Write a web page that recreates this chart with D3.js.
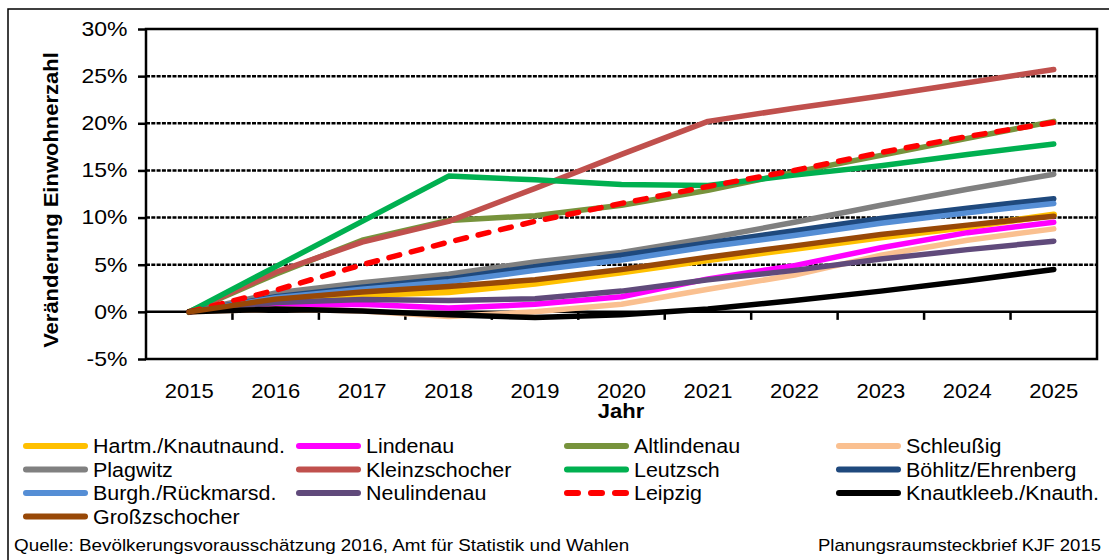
<!DOCTYPE html>
<html>
<head>
<meta charset="utf-8">
<script src="https://cdn.jsdelivr.net/npm/d3@7"></script>
<style>
  body { margin: 0; background: #fff; }
  svg { font-family: "Liberation Sans", Arial, sans-serif; }
</style>
</head>
<body>
<div class="visHolder"></div>
<script>
// Veränderung der Einwohnerzahl 2015-2025 (in %), gegenüber 2015
var years = ['2015', '2016', '2017', '2018', '2019', '2020', '2021', '2022', '2023', '2024', '2025'];
var yTicks = [-5, 0, 5, 10, 15, 20, 25, 30];

var hartm          = [0, 1.1, 1.8, 2.1, 3.0, 4.2, 5.5, 6.7, 7.9, 9.0, 10.3];
var lindenau       = [0, 0.6, 0.8, 0.4, 0.8, 1.6, 3.5, 4.9, 6.8, 8.4, 9.5];
var altlindenau    = [0, 4.0, 7.6, 9.7, 10.2, 11.3, 12.9, 14.8, 16.6, 18.4, 20.2];
var schleussig     = [0, 0.3, 0.1, -0.5, 0.0, 0.8, 2.4, 3.9, 6.0, 7.6, 8.8];
var plagwitz       = [0, 2.0, 3.1, 4.0, 5.3, 6.3, 7.8, 9.5, 11.3, 13.0, 14.6];
var kleinzschocher = [0, 4.2, 7.4, 9.6, 13.1, 16.7, 20.2, 21.6, 22.9, 24.3, 25.7];
var leutzsch       = [0, 4.8, 9.6, 14.4, 14.0, 13.5, 13.4, 14.5, 15.5, 16.7, 17.8];
var boehlitz       = [0, 1.6, 2.6, 3.5, 4.8, 6.0, 7.3, 8.6, 9.9, 11.0, 12.0];
var burgh          = [0, 1.5, 2.4, 3.2, 4.4, 5.5, 6.9, 8.1, 9.4, 10.5, 11.5];
var neulindenau    = [0, 1.0, 1.3, 1.2, 1.4, 2.2, 3.4, 4.4, 5.6, 6.6, 7.5];
var leipzig        = [0, 2.3, 5.0, 7.4, 9.6, 11.5, 13.3, 15.0, 16.9, 18.6, 20.1];
var knautkleeb     = [0, 0.3, 0.1, -0.3, -0.6, -0.3, 0.3, 1.2, 2.2, 3.3, 4.5];
var grosszschocher = [0, 1.35, 2.1, 2.7, 3.4, 4.5, 5.8, 7.0, 8.2, 9.2, 10.15];

// series in Excel order (legend is filled row by row, later ones drawn on top)
var series = [
  { name: 'Hartm./Knautnaund.', values: hartm, color: '#FFC000', w: 6.5 },
  { name: 'Lindenau', values: lindenau, color: '#FF00FF' },
  { name: 'Altlindenau', values: altlindenau, color: '#77933C' },
  { name: 'Schleußig', values: schleussig, color: '#FAC090' },
  { name: 'Plagwitz', values: plagwitz, color: '#808080' },
  { name: 'Kleinzschocher', values: kleinzschocher, color: '#C0504D' },
  { name: 'Leutzsch', values: leutzsch, color: '#00B050' },
  { name: 'Böhlitz/Ehrenberg', values: boehlitz, color: '#1F497D' },
  { name: 'Burgh./Rückmarsd.', values: burgh, color: '#558ED5' },
  { name: 'Neulindenau', values: neulindenau, color: '#604A7B' },
  { name: 'Leipzig', values: leipzig, color: '#FF0000', dash: true },
  { name: 'Knautkleeb./Knauth.', values: knautkleeb, color: '#000000' },
  { name: 'Großzschocher', values: grosszschocher, color: '#984807' }
];

var width = 1109,
    height = 560,
    plotLeft = 146,
    plotRight = 1097,
    plotTop = 29,
    plotBottom = 359,
    stretch = 1.1; // Excel text comes out a bit wide

var svg = d3.select('.visHolder')
  .append('svg')
  .attr('width', width)
  .attr('height', height);

// outer chart frame
svg.append('rect')
  .attr('x', 8)
  .attr('y', 9)
  .attr('width', 1120)
  .attr('height', 570)
  .style('fill', 'none')
  .style('stroke', '#000')
  .style('stroke-width', 1.5);

var xScale = d3.scaleBand()
  .domain(years)
  .range([plotLeft, plotRight]);

var yScale = d3.scaleLinear()
  .domain([-5, 30])
  .range([plotBottom, plotTop]);

// dashed gridlines
svg.append('g')
  .selectAll('line')
  .data(yTicks.filter(function(d) { return d > 0 && d < 30; }))
  .enter()
  .append('line')
  .attr('x1', plotLeft)
  .attr('x2', plotRight)
  .attr('y1', function(d) { return yScale(d); })
  .attr('y2', function(d) { return yScale(d); })
  .style('stroke', '#000')
  .style('stroke-width', 2.5)
  .style('stroke-dasharray', '4,1.3');

// y axis
var yAxis = d3.axisLeft(yScale)
  .tickValues(yTicks)
  .tickFormat(function(d) { return d + '%'; })
  .tickSize(8)
  .tickPadding(10);

var yAxisGroup = svg.append('g')
  .attr('transform', 'translate(' + plotLeft + ',0)')
  .call(yAxis);
yAxisGroup.select('.domain').remove();
yAxisGroup.selectAll('line').style('stroke', '#000').style('stroke-width', 2.5);
yAxisGroup.selectAll('text')
  .attr('x', -18.5 / 1.15)
  .attr('transform', 'scale(1.15,1)')
  .style('font-size', '20px')
  .style('fill', '#000')
  .style('font-family', '"Liberation Sans", Arial, sans-serif');

// x axis labels below the plot
var xAxis = d3.axisBottom(xScale)
  .tickSize(0)
  .tickPadding(25);

var xAxisGroup = svg.append('g')
  .attr('transform', 'translate(0,' + plotBottom + ')')
  .call(xAxis);
xAxisGroup.select('.domain').remove();
xAxisGroup.selectAll('text')
  .attr('transform', 'scale(' + stretch + ',1)')
  .style('font-size', '20px')
  .style('fill', '#000')
  .style('font-family', '"Liberation Sans", Arial, sans-serif');

// category line at 0% with ticks between the years
svg.append('line')
  .attr('x1', plotLeft)
  .attr('x2', plotRight)
  .attr('y1', yScale(0))
  .attr('y2', yScale(0))
  .style('stroke', '#000')
  .style('stroke-width', 2.5);

svg.append('g')
  .selectAll('line')
  .data(years.slice(1))
  .enter()
  .append('line')
  .attr('x1', function(d) { return xScale(d); })
  .attr('x2', function(d) { return xScale(d); })
  .attr('y1', yScale(0))
  .attr('y2', yScale(0) + 8)
  .style('stroke', '#000')
  .style('stroke-width', 2.5);

// plot area border
svg.append('rect')
  .attr('x', plotLeft)
  .attr('y', plotTop)
  .attr('width', plotRight - plotLeft)
  .attr('height', plotBottom - plotTop)
  .style('fill', 'none')
  .style('stroke', '#000')
  .style('stroke-width', 2.5);

// lines
var line = d3.line()
  .x(function(d, i) { return xScale(years[i]) + xScale.bandwidth() / 2; })
  .y(function(d) { return yScale(d); });

svg.append('g')
  .selectAll('path')
  .data(series)
  .enter()
  .append('path')
  .attr('d', function(s) { return line(s.values); })
  .style('fill', 'none')
  .style('stroke', function(s) { return s.color; })
  .style('stroke-width', function(s) { return s.w || 5.5; })
  .style('stroke-linecap', 'round')
  .style('stroke-linejoin', 'round')
  .style('stroke-dasharray', function(s) { return s.dash ? '11,12' : null; });

// axis titles
svg.append('text')
  .attr('transform', 'translate(58,200) rotate(-90) scale(' + stretch + ',1)')
  .attr('text-anchor', 'middle')
  .style('font-size', '20px')
  .style('font-weight', 'bold')
  .text('Veränderung Einwohnerzahl');

svg.append('text')
  .attr('transform', 'translate(621,418) scale(' + stretch + ',1)')
  .attr('text-anchor', 'middle')
  .style('font-size', '20px')
  .style('font-weight', 'bold')
  .text('Jahr');

// legend, 4 columns
var legendCols = [23, 296, 564, 836];
var legend = svg.append('g')
  .selectAll('g')
  .data(series)
  .enter()
  .append('g')
  .attr('transform', function(s, i) {
    return 'translate(' + legendCols[i % 4] + ',' + (446 + Math.floor(i / 4) * 23.5) + ')';
  });

legend.append('line')
  .attr('x1', 3)
  .attr('x2', 62)
  .attr('y1', 0)
  .attr('y2', 0)
  .style('stroke', function(s) { return s.color; })
  .style('stroke-width', 6)
  .style('stroke-linecap', 'round')
  .style('stroke-dasharray', function(s) { return s.dash ? '11,13' : null; });

legend.append('text')
  .attr('transform', 'translate(70,7) scale(' + stretch + ',1)')
  .style('font-size', '19.5px')
  .text(function(s) { return s.name; });

// footer
svg.append('text')
  .attr('transform', 'translate(14,551) scale(1.11,1)')
  .style('font-size', '17px')
  .text('Quelle:  Bevölkerungsvorausschätzung 2016, Amt für Statistik und Wahlen');

svg.append('text')
  .attr('transform', 'translate(1101,551) scale(1.09,1)')
  .attr('text-anchor', 'end')
  .style('font-size', '17px')
  .text('Planungsraumsteckbrief KJF 2015');
</script>
</body>
</html>
